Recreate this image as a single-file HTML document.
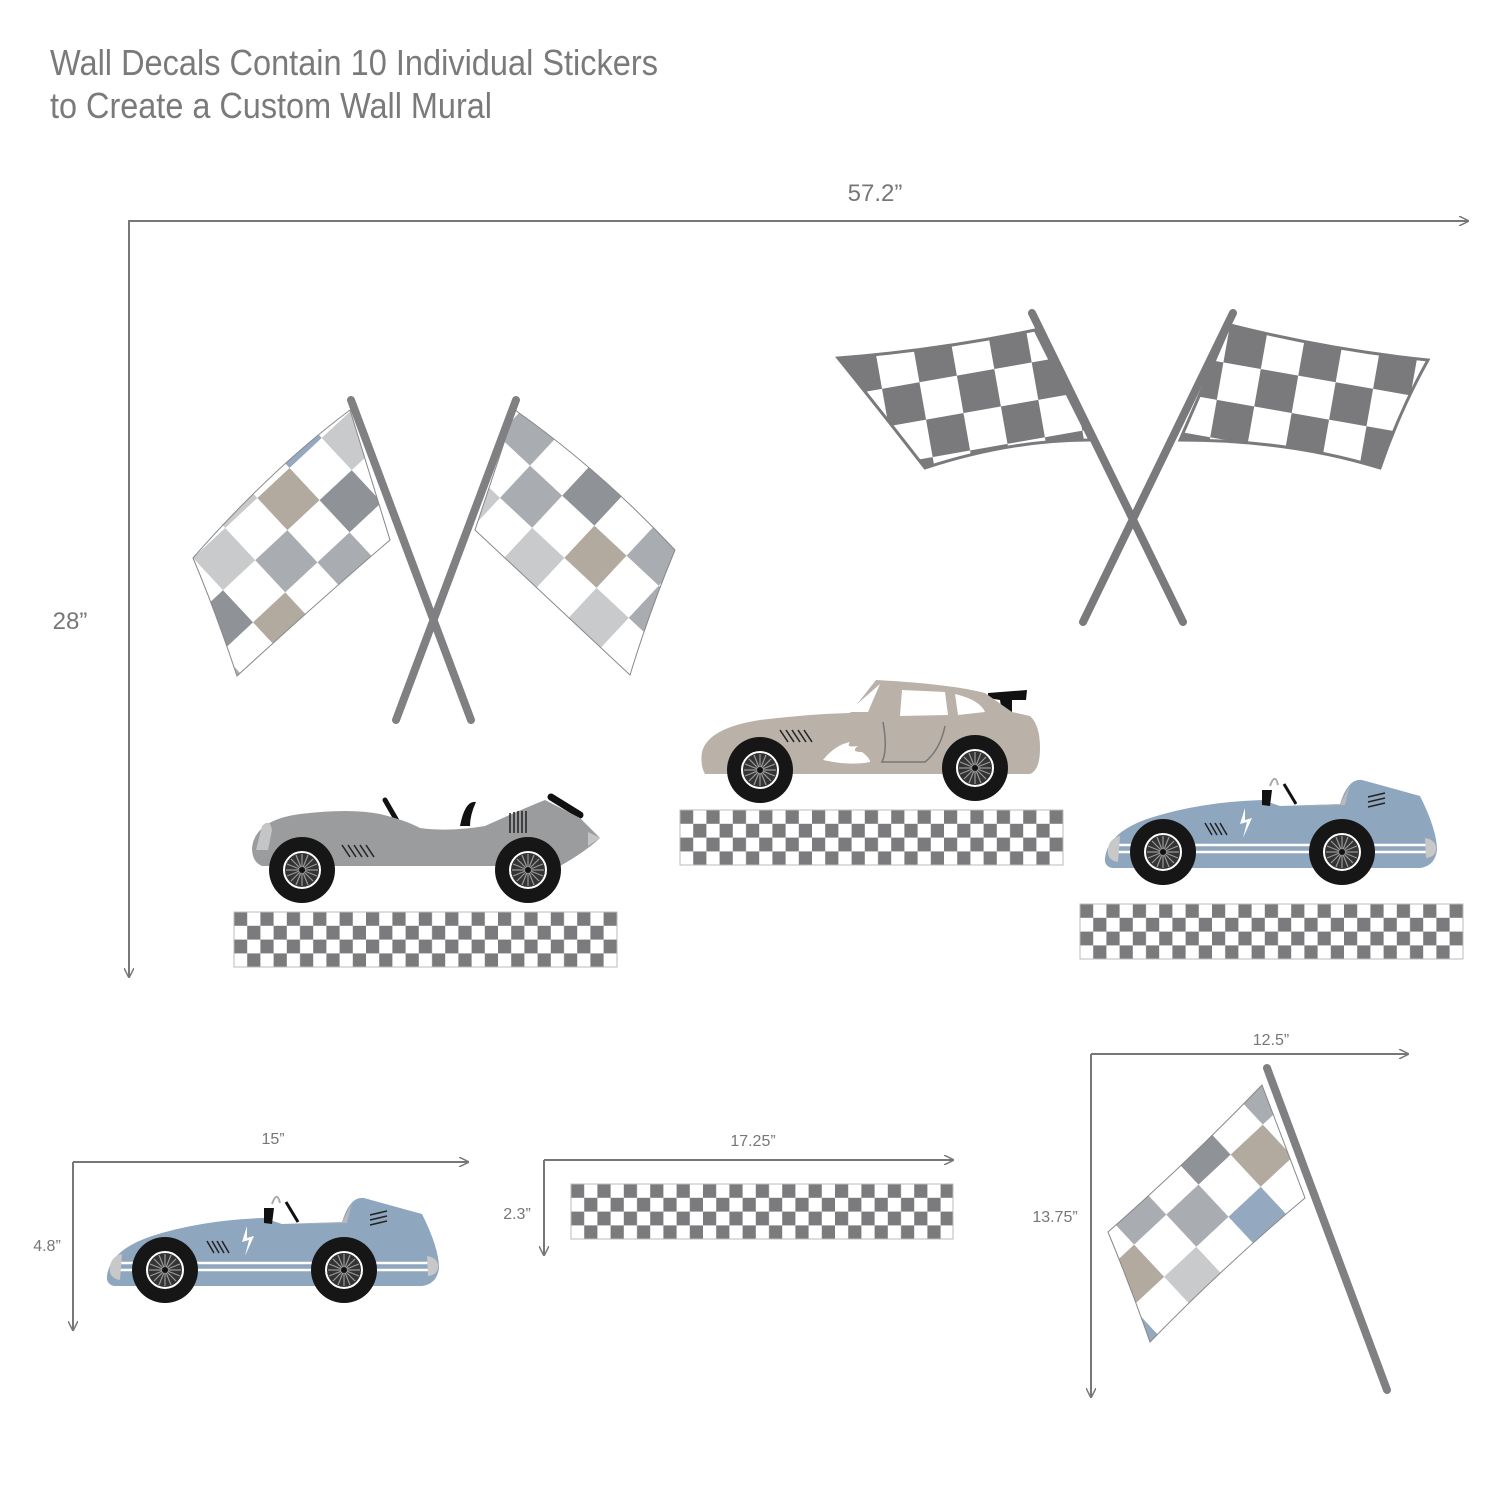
<!DOCTYPE html>
<html><head><style>
html,body{margin:0;padding:0;background:#fff;}
svg{display:block;}
</style></head><body>
<svg width="1500" height="1500" viewBox="0 0 1500 1500" xmlns="http://www.w3.org/2000/svg">
<defs>
  <pattern id="chk" patternUnits="userSpaceOnUse" width="26.4" height="27.6">
    <rect width="26.4" height="27.6" fill="#fff"/>
    <rect x="0" y="0" width="13.2" height="13.8" fill="#7b7b7d"/>
    <rect x="13.2" y="13.8" width="13.2" height="13.8" fill="#7b7b7d"/>
  </pattern>
  <pattern id="lflagL" patternUnits="userSpaceOnUse" width="176" height="176" patternTransform="translate(193,558) rotate(-43)">
    <rect width="176" height="176" fill="#fff"/>
    <rect x="0" y="0" width="44" height="44" fill="#c9cacb"/>
    <rect x="88" y="0" width="44" height="44" fill="#b3aa9f"/>
    <rect x="44" y="44" width="44" height="44" fill="#a9adb1"/>
    <rect x="132" y="44" width="44" height="44" fill="#8f9397"/>
    <rect x="0" y="88" width="44" height="44" fill="#b3aa9f"/>
    <rect x="88" y="88" width="44" height="44" fill="#a9adb1"/>
    <rect x="44" y="132" width="44" height="44" fill="#c9cacb"/>
    <rect x="132" y="132" width="44" height="44" fill="#94a9c0"/>
  </pattern>
  <pattern id="lflagR" patternUnits="userSpaceOnUse" width="176" height="176" patternTransform="translate(470,530) rotate(43)">
    <rect width="176" height="176" fill="#fff"/>
    <rect x="0" y="0" width="44" height="44" fill="#94a9c0"/>
    <rect x="88" y="0" width="44" height="44" fill="#b3aa9f"/>
    <rect x="44" y="44" width="44" height="44" fill="#8f9397"/>
    <rect x="132" y="44" width="44" height="44" fill="#a9adb1"/>
    <rect x="0" y="88" width="44" height="44" fill="#a9adb1"/>
    <rect x="88" y="88" width="44" height="44" fill="#b3aa9f"/>
    <rect x="44" y="132" width="44" height="44" fill="#c9cacb"/>
    <rect x="132" y="132" width="44" height="44" fill="#c9cacb"/>
  </pattern>
  <pattern id="dflagL" patternUnits="userSpaceOnUse" width="76" height="76" patternTransform="translate(838,358) rotate(-10)">
    <rect width="76" height="76" fill="#7a7a7c"/>
    <rect x="38" y="0" width="38" height="38" fill="#fff"/>
    <rect x="0" y="38" width="38" height="38" fill="#fff"/>
  </pattern>
  <pattern id="dflagR" patternUnits="userSpaceOnUse" width="76" height="76" patternTransform="translate(1230,325) rotate(10)">
    <rect width="76" height="76" fill="#7a7a7c"/>
    <rect x="38" y="0" width="38" height="38" fill="#fff"/>
    <rect x="0" y="38" width="38" height="38" fill="#fff"/>
  </pattern>
  <marker id="ah" markerWidth="10" markerHeight="10" refX="9" refY="5" orient="auto" markerUnits="userSpaceOnUse">
    <path d="M0,0 L10,5 L0,10" fill="none" stroke="#777" stroke-width="1.5"/>
  </marker>
  <g id="wheel">
    <circle r="33" fill="#161616"/>
    <circle r="18" fill="#333" stroke="#fff" stroke-width="2"/>
    <g stroke="#999" stroke-width="1.2">
      <line x1="-16" y1="0" x2="16" y2="0"/><line x1="0" y1="-16" x2="0" y2="16"/>
      <line x1="-11" y1="-11" x2="11" y2="11"/><line x1="-11" y1="11" x2="11" y2="-11"/>
      <line x1="-15" y1="-6" x2="15" y2="6"/><line x1="-15" y1="6" x2="15" y2="-6"/>
      <line x1="-6" y1="-15" x2="6" y2="15"/><line x1="6" y1="-15" x2="-6" y2="15"/>
    </g>
    <circle r="3" fill="#111"/>
  </g>
  <g id="bluecar">
    <path d="M1105,858 Q1108,832 1150,818 Q1200,802 1262,800 L1280,806 L1340,804 Q1348,778 1362,780 L1420,796 Q1437,830 1437,850 Q1435,866 1420,868 L1112,868 Q1104,866 1105,858Z" fill="#8fa6bf"/>
    <path d="M1290,806 L1340,804 L1350,785 L1345,805Z" fill="#b6b8bb"/>
    <line x1="1115" y1="845" x2="1430" y2="845" stroke="#fff" stroke-width="2.5"/>
    <line x1="1115" y1="852" x2="1430" y2="852" stroke="#fff" stroke-width="2.5"/>
    <path d="M1108,848 Q1110,838 1120,836 L1118,862 Q1106,860 1108,848Z" fill="#c8c8c8"/>
    <path d="M1425,838 Q1437,840 1436,850 Q1435,857 1426,858Z" fill="#c8c8c8"/>
    <path d="M1270,786 Q1275,772 1278,785" stroke="#aaa" stroke-width="2" fill="none"/>
    <path d="M1262,790 L1272,790 L1270,806 L1262,805Z" fill="#111"/>
    <line x1="1284" y1="784" x2="1296" y2="804" stroke="#111" stroke-width="3"/>
    <path d="M1245,808 L1240,824 L1247,822 L1243,838 L1252,818 L1245,820Z" fill="#fff"/>
    <g stroke="#222" stroke-width="1.5">
      <line x1="1205" y1="823" x2="1212" y2="835"/><line x1="1210" y1="823" x2="1217" y2="835"/>
      <line x1="1215" y1="823" x2="1222" y2="835"/><line x1="1220" y1="823" x2="1227" y2="835"/>
      <line x1="1368" y1="797" x2="1385" y2="793"/><line x1="1368" y1="802" x2="1385" y2="798"/><line x1="1368" y1="807" x2="1385" y2="803"/>
    </g>
    <use href="#wheel" x="1163" y="852"/>
    <use href="#wheel" x="1342" y="852"/>
  </g>
</defs>

<g font-family="'Liberation Sans Narrow','Liberation Sans',sans-serif" font-size="36" fill="#7a7a7a">
  <text x="50" y="75" textLength="608" lengthAdjust="spacingAndGlyphs">Wall Decals Contain 10 Individual Stickers</text>
  <text x="50" y="118" textLength="442" lengthAdjust="spacingAndGlyphs">to Create a Custom Wall Mural</text>
</g>

<g stroke="#777" stroke-width="2" fill="none">
  <path d="M129,977 L129,221 L1468,221" marker-end="url(#ah)"/>
  <line x1="129" y1="221" x2="129" y2="977" marker-end="url(#ah)"/>
  <path d="M73,1162 L468,1162" marker-end="url(#ah)"/>
  <path d="M73,1162 L73,1330" marker-end="url(#ah)"/>
  <path d="M544,1160 L953,1160" marker-end="url(#ah)"/>
  <path d="M544,1160 L544,1255" marker-end="url(#ah)"/>
  <path d="M1091,1054 L1408,1054" marker-end="url(#ah)"/>
  <path d="M1091,1054 L1091,1397" marker-end="url(#ah)"/>
</g>
<g font-family="'Liberation Sans',sans-serif" fill="#777">
  <text x="875" y="201" font-size="24" text-anchor="middle">57.2”</text>
  <text x="70" y="629" font-size="24" text-anchor="middle">28”</text>
  <text x="273" y="1144" font-size="16" text-anchor="middle">15”</text>
  <text x="47" y="1251" font-size="16" text-anchor="middle">4.8”</text>
  <text x="753" y="1146" font-size="16" text-anchor="middle">17.25”</text>
  <text x="517" y="1219" font-size="16" text-anchor="middle">2.3”</text>
  <text x="1271" y="1045" font-size="16" text-anchor="middle">12.5”</text>
  <text x="1055" y="1222" font-size="16" text-anchor="middle">13.75”</text>
</g>

<path d="M193,558 Q270,470 350,410 L390,540 Q320,600 237,676 Q215,610 193,558Z" fill="url(#lflagL)" stroke="#888" stroke-width="1"/>
<path d="M515,410 Q600,470 675,550 Q650,610 630,675 Q550,600 475,530Z" fill="url(#lflagR)" stroke="#888" stroke-width="1"/>
<g stroke="#808083" stroke-width="8" stroke-linecap="round">
  <line x1="351" y1="400" x2="471" y2="720"/>
  <line x1="516" y1="400" x2="396" y2="720"/>
</g>

<path d="M838,358 Q940,350 1035,330 L1090,440 Q1010,440 925,468 Q880,410 838,358Z" fill="url(#dflagL)" stroke="#7a7a7c" stroke-width="3"/>
<path d="M1230,325 Q1330,350 1428,360 Q1400,410 1380,468 Q1290,440 1180,440Z" fill="url(#dflagR)" stroke="#7a7a7c" stroke-width="3"/>
<g stroke="#7a7a7c" stroke-width="8" stroke-linecap="round">
  <line x1="1032" y1="313" x2="1183" y2="622"/>
  <line x1="1233" y1="313" x2="1083" y2="622"/>
</g>

<g transform="translate(234,912)"><rect width="383" height="55" fill="url(#chk)" stroke="#bbb" stroke-width="1"/></g>
<g transform="translate(680,810)"><rect width="383" height="55" fill="url(#chk)" stroke="#bbb" stroke-width="1"/></g>
<g transform="translate(1080,904)"><rect width="383" height="55" fill="url(#chk)" stroke="#bbb" stroke-width="1"/></g>
<g transform="translate(571,1184)"><rect width="382" height="55" fill="url(#chk)" stroke="#bbb" stroke-width="1"/></g>

<line x1="385" y1="800" x2="400" y2="826" stroke="#111" stroke-width="5" stroke-linecap="round"/>
<path d="M460,826 Q465,800 476,802 Q470,815 470,826Z" fill="#111"/>
<line x1="551" y1="797" x2="580" y2="815" stroke="#111" stroke-width="7" stroke-linecap="round"/>
<path d="M252,848 Q255,820 300,814 Q350,808 380,814 Q405,820 420,828 Q450,832 485,826 Q520,810 545,800 L580,818 L600,838 Q585,852 560,866 L262,866 Q252,862 252,848Z" fill="#9a9c9e"/>
<path d="M262,826 Q270,818 272,830 L268,850 L256,850Z" fill="#c4c5c6"/>
<path d="M588,832 L600,838 L588,846Z" fill="#c4c5c6"/>
<g stroke="#222" stroke-width="1.5">
  <line x1="342" y1="845" x2="350" y2="857"/><line x1="348" y1="845" x2="356" y2="857"/><line x1="354" y1="845" x2="362" y2="857"/><line x1="360" y1="845" x2="368" y2="857"/><line x1="366" y1="845" x2="374" y2="857"/>
  <line x1="510" y1="813" x2="510" y2="833"/><line x1="514" y1="812" x2="514" y2="833"/><line x1="518" y1="811" x2="518" y2="833"/><line x1="522" y1="811" x2="522" y2="833"/><line x1="526" y1="811" x2="526" y2="833"/>
</g>
<use href="#wheel" x="302" y="870"/>
<use href="#wheel" x="528" y="870"/>

<path d="M988,693 L1027,690 L1026,700 L1012,700 L1012,712 L1002,712 L1000,700 L988,698Z" fill="#111"/>
<path d="M702,752 Q708,728 760,720 Q810,714 850,713 L876,680 Q950,684 985,693 L1012,712 L1030,716 Q1040,725 1040,748 Q1040,770 1030,774 L705,774 Q700,765 702,752Z" fill="#bab1a8"/>
<path d="M880,684 L868,712 L848,712 Z" fill="#fff"/>
<path d="M902,690 L945,692 L948,715 L900,716Z" fill="#fff"/>
<path d="M955,694 Q980,700 985,712 L958,715Z" fill="#fff"/>
<path d="M883,722 Q888,750 882,762 L925,762 Q940,750 945,726" stroke="#777" stroke-width="1.5" fill="none"/>
<path d="M823,760 Q835,745 850,742 Q845,748 858,746 Q850,752 862,752 Q870,758 870,762 Q850,766 823,760Z" fill="#fff"/>
<g stroke="#222" stroke-width="1.5">
  <line x1="780" y1="730" x2="788" y2="742"/><line x1="786" y1="730" x2="794" y2="742"/><line x1="792" y1="730" x2="800" y2="742"/><line x1="798" y1="730" x2="806" y2="742"/><line x1="804" y1="730" x2="812" y2="742"/>
</g>
<use href="#wheel" x="760" y="770"/>
<use href="#wheel" x="975" y="768"/>

<use href="#bluecar"/>
<use href="#bluecar" transform="translate(-998,418)"/>

<path d="M1108,1232 Q1190,1160 1262,1085 L1305,1198 Q1225,1265 1150,1342 Q1130,1285 1108,1232Z" fill="url(#lflagL)" stroke="#888" stroke-width="1"/>
<line x1="1267" y1="1068" x2="1387" y2="1390" stroke="#808083" stroke-width="8" stroke-linecap="round"/>
</svg>
</body></html>
